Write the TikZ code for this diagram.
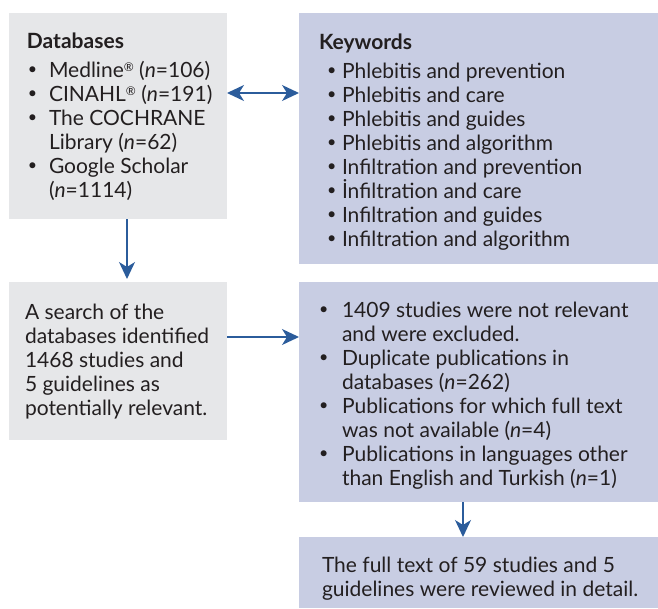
\documentclass[tikz,border=0pt]{standalone}
\usepackage{fontspec}
\setmainfont{Lato}
\usetikzlibrary{arrows.meta}
\definecolor{greyfill}{HTML}{E6E7E9}
\definecolor{bluefill}{HTML}{C8CDE3}
\definecolor{arrowblue}{HTML}{2B5C9B}
\definecolor{ink}{HTML}{231F20}
\newcommand{\smallbul}{\raisebox{2.2pt}{\fontsize{16}{16}\selectfont\textbullet}}
\newcommand{\bitem}[2]{\par\hangindent=#2\hangafter=1\noindent\makebox[#2][l]{\hspace{#1}\smallbul}}
\newcommand{\nn}{\textit{n}}
\newcommand{\regd}{\raisebox{6pt}{\fontsize{12}{12}\selectfont\textregistered}}
\begin{document}
\begin{tikzpicture}[x=1pt,y=-1pt,
  box/.style={rectangle,inner sep=0pt,outer sep=0pt,anchor=north west},
  greybox/.style={box,fill=greyfill},
  bluebox/.style={box,fill=bluefill},
  txt/.style={inner sep=0pt,outer sep=0pt,anchor=base west,text=ink,font=\fontsize{21}{24}\selectfont},
  conn/.style={draw=arrowblue,line width=1.3pt,-{Stealth[length=17pt,width=16pt,inset=5pt]}},
  dconn/.style={draw=arrowblue,line width=1.3pt,{Stealth[length=17pt,width=16pt,inset=5pt]}-{Stealth[length=17pt,width=16pt,inset=5pt]}}
]
\useasboundingbox (0,0) rectangle (658,608);
% boxes
\node[greybox,minimum width=218pt,minimum height=206pt] (db) at (9,13) {};
\node[bluebox,minimum width=359pt,minimum height=251pt] (kw) at (299,13) {};
\node[greybox,minimum width=218pt,minimum height=158pt] (search) at (9,282) {};
\node[bluebox,minimum width=359pt,minimum height=220pt] (excl) at (299,282) {};
\node[bluebox,minimum width=359pt,minimum height=71pt] (full) at (299,537) {};
% texts
\node[txt] (dbt) at (27,48) {\parbox[t]{300pt}{\parindent=0pt\parskip=0pt
\textbf{Databases}\par\vspace{5pt}
\bitem{1pt}{22pt}Medline\regd{} (\nn=106)
\bitem{1pt}{22pt}CINAHL\regd{} (\nn=191)
\bitem{1pt}{22pt}The COCHRANE\newline Library (\nn=62)
\bitem{1pt}{22pt}Google Scholar\newline (\nn=1114)\par}};
\node[txt] (kwt) at (319,49) {\parbox[t]{330pt}{\parindent=0pt\parskip=0pt
\textbf{Keywords}\par\vspace{5pt}
\bitem{8pt}{23pt}Phlebitis and prevention
\bitem{8pt}{23pt}Phlebitis and care
\bitem{8pt}{23pt}Phlebitis and guides
\bitem{8pt}{23pt}Phlebitis and algorithm
\bitem{8pt}{23pt}Infiltration and prevention
\bitem{8pt}{23pt}İnfiltration and care
\bitem{8pt}{23pt}Infiltration and guides
\bitem{8pt}{23pt}Infiltration and algorithm\par}};
\node[txt] (searcht) at (25,319) {\parbox[t]{300pt}{\parindent=0pt\parskip=0pt
A search of the\newline databases identified\newline 1468 studies and\newline 5 guidelines as\newline potentially relevant.\par}};
\node[txt] (exclt) at (319,317) {\parbox[t]{340pt}{\parindent=0pt\parskip=0pt
\bitem{0pt}{23pt}1409 studies were not relevant\newline and were excluded.
\bitem{0pt}{23pt}Duplicate publications in\newline databases (\nn=262)
\bitem{0pt}{23pt}Publications for which full text\newline was not available (\nn=4)
\bitem{0pt}{23pt}Publications in languages other\newline than English and Turkish (\nn=1)\par}};
\node[txt] (fullt) at (322,572) {\parbox[t]{340pt}{\parindent=0pt\parskip=0pt
The full text of 59 studies and 5\newline guidelines were reviewed in detail.\par}};
% connectors
\coordinate (a1) at (127,219);
\coordinate (a2) at (127,282);
\draw[conn,shorten >=3pt] (db.south -| a1) -- (search.north -| a2);
\coordinate (b1) at (227,93);
\draw[dconn] (db.east |- b1) -- (kw.west |- b1);
\coordinate (c1) at (227,337);
\draw[conn] (search.east |- c1) -- (excl.west |- c1);
\coordinate (d1) at (463,502);
\draw[conn] (excl.south -| d1) -- (full.north -| d1);
\end{tikzpicture}
\end{document}
